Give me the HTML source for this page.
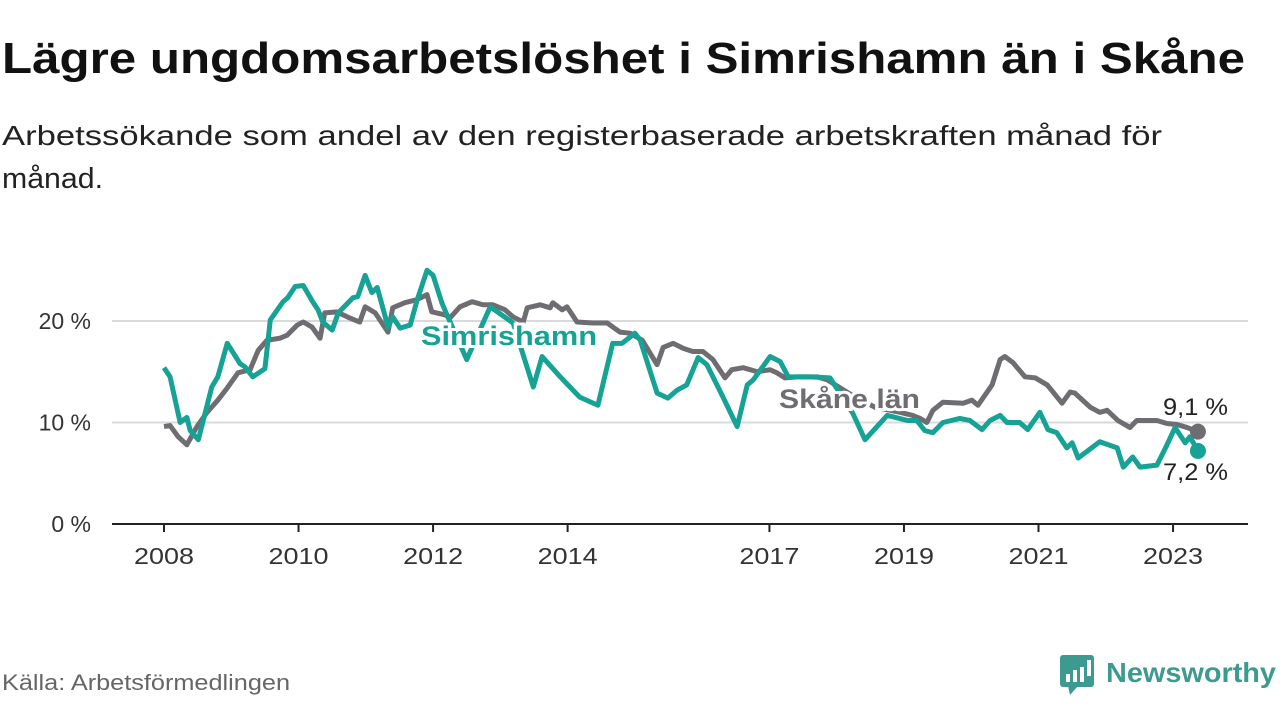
<!DOCTYPE html>
<html><head><meta charset="utf-8"><style>
body{margin:0;background:#fff;}
svg{display:block;font-family:"Liberation Sans",sans-serif;}
</style></head><body>
<svg id="chart" width="1280" height="720" viewBox="0 0 1280 720">
<text x="2" y="73" font-size="44" font-weight="bold" fill="#111" textLength="1243" lengthAdjust="spacingAndGlyphs">Lägre ungdomsarbetslöshet i Simrishamn än i Skåne</text>
<text x="2" y="145" font-size="28" fill="#222" textLength="1160" lengthAdjust="spacingAndGlyphs">Arbetssökande som andel av den registerbaserade arbetskraften månad för</text>
<text x="2" y="188" font-size="29" fill="#222" textLength="101" lengthAdjust="spacingAndGlyphs">månad.</text>
<g id="grid"></g>
<g id="xaxis"></g>
<g id="series"></g>
<g id="labels"></g>
<text x="2" y="690" font-size="22" fill="#666" textLength="288" lengthAdjust="spacingAndGlyphs">Källa: Arbetsförmedlingen</text>
<g>
<rect x="1060" y="655" width="34" height="32" rx="3" fill="#3d9a91"/>
<polygon points="1068,686 1078,686 1070,695" fill="#3d9a91"/>
<rect x="1066" y="674" width="4" height="8" fill="#fff"/>
<rect x="1073" y="670" width="4" height="12" fill="#fff"/>
<rect x="1080" y="667" width="4" height="15" fill="#fff"/>
<rect x="1087" y="660" width="4" height="16" fill="#fff"/>
<text x="1106" y="682" font-size="28" font-weight="bold" fill="#3d9a91" textLength="170" lengthAdjust="spacingAndGlyphs">Newsworthy</text>
</g>
</svg>
<script>
const yTicks=[0,10,20];
const yTickLabels=["0 %","10 %","20 %"];
const xTicks=[2008,2010,2012,2014,2017,2019,2021,2023];
const simDates=[2008.0,2008.09,2008.24,2008.34,2008.39,2008.51,2008.71,2008.80,2008.94,2009.13,2009.20,2009.32,2009.50,2009.58,2009.77,2009.84,2009.95,2010.07,2010.21,2010.29,2010.36,2010.50,2010.59,2010.81,2010.88,2010.99,2011.09,2011.17,2011.33,2011.40,2011.51,2011.66,2011.76,2011.91,2012.0,2012.13,2012.22,2012.50,2012.85,2013.19,2013.49,2013.62,2013.89,2014.18,2014.45,2014.67,2014.81,2015.0,2015.08,2015.33,2015.49,2015.63,2015.77,2015.94,2016.07,2016.31,2016.52,2016.67,2016.76,2017.01,2017.16,2017.28,2017.60,2017.90,2018.24,2018.42,2018.75,2019.05,2019.19,2019.31,2019.43,2019.58,2019.83,2019.98,2020.16,2020.28,2020.43,2020.53,2020.72,2020.84,2021.02,2021.14,2021.27,2021.42,2021.50,2021.59,2021.91,2022.17,2022.26,2022.40,2022.51,2022.76,2022.91,2023.03,2023.18,2023.25,2023.37];
const simValues=[15.4,14.5,10,10.5,9.2,8.3,13.5,14.5,17.8,15.8,15.5,14.5,15.3,20.1,21.9,22.3,23.4,23.5,21.9,21.1,19.9,19.1,20.8,22.3,22.4,24.5,22.8,23.3,19.4,20.4,19.3,19.6,22,25,24.5,21.8,20.4,16.2,21.4,19.8,13.5,16.5,14.5,12.5,11.7,17.8,17.8,18.8,18.1,12.9,12.4,13.2,13.7,16.4,15.7,12.5,9.6,13.7,14.2,16.5,16,14.5,14.5,14.4,10.9,8.3,10.7,10.2,10.2,9.2,9,10,10.4,10.2,9.3,10.2,10.7,10,10,9.3,11,9.3,9,7.5,8,6.5,8.1,7.5,5.6,6.6,5.6,5.8,7.8,9.5,8,8.6,7.2];
const skDates=[2008.0,2008.09,2008.21,2008.34,2008.49,2008.64,2008.80,2008.94,2009.10,2009.28,2009.40,2009.53,2009.72,2009.83,2009.98,2010.07,2010.20,2010.32,2010.39,2010.57,2010.76,2010.91,2010.99,2011.14,2011.33,2011.40,2011.58,2011.76,2011.91,2011.98,2012.18,2012.25,2012.40,2012.58,2012.74,2012.89,2013.07,2013.19,2013.34,2013.40,2013.59,2013.74,2013.78,2013.92,2013.99,2014.14,2014.37,2014.59,2014.78,2014.93,2015.11,2015.33,2015.42,2015.57,2015.72,2015.86,2016.01,2016.16,2016.34,2016.44,2016.61,2016.82,2017.01,2017.11,2017.23,2017.41,2017.71,2017.86,2018.20,2018.57,2018.94,2019.13,2019.24,2019.34,2019.43,2019.58,2019.88,2020.01,2020.10,2020.31,2020.43,2020.50,2020.62,2020.80,2020.95,2021.13,2021.35,2021.47,2021.54,2021.77,2021.91,2022.02,2022.18,2022.36,2022.46,2022.76,2022.91,2023.06,2023.21,2023.37];
const skValues=[9.6,9.7,8.6,7.8,9.6,11,12.2,13.4,14.9,15.2,17.1,18.1,18.3,18.6,19.6,19.9,19.4,18.3,20.8,20.9,20.3,19.9,21.4,20.8,18.9,21.3,21.8,22.1,22.6,20.9,20.6,20.3,21.4,21.9,21.6,21.6,21.1,20.4,19.9,21.3,21.6,21.3,21.8,21.1,21.4,19.9,19.8,19.8,18.9,18.8,18.1,15.7,17.4,17.8,17.3,17,17,16.2,14.4,15.2,15.4,15,15.2,14.9,14.4,14.5,14.5,14.2,12.8,11.5,11,10.7,10.4,10,11.2,12,11.9,12.2,11.7,13.7,16.2,16.5,15.9,14.5,14.4,13.7,11.9,13,12.9,11.5,11,11.2,10.2,9.5,10.2,10.2,9.9,9.8,9.5,9.1];
const NS='http://www.w3.org/2000/svg';
const X=y=>164+(y-2008)*67.27;
const Y=v=>524-v*10.15;
function mk(tag,parent,attrs){const e=document.createElementNS(NS,tag);for(const k in attrs)e.setAttribute(k,attrs[k]);parent.appendChild(e);return e;}
const grid=document.getElementById('grid');
yTicks.forEach((t,i)=>{
 if(t>0){const l=mk('line',grid,{x1:112,x2:1248,y1:Y(t),y2:Y(t),stroke:'#d9d9d9','stroke-width':2});
 
 }
 const tx=mk('text',grid,{x:91,y:Y(t)+8,'font-size':23,fill:'#333','text-anchor':'end'});
 tx.textContent=yTickLabels[i];
 
 
});
const xa=document.getElementById('xaxis');
const ax=mk('line',xa,{x1:112,x2:1248,y1:524,y2:524,stroke:'#222','stroke-width':2});


xTicks.forEach(t=>{
 const tk=mk('line',xa,{x1:X(t),x2:X(t),y1:524,y2:532,stroke:'#222','stroke-width':2});
 
 
 const tx=mk('text',xa,{x:X(t)-30,y:564,'font-size':23,fill:'#333',textLength:60,lengthAdjust:'spacingAndGlyphs'});
 tx.textContent=t;
 
 
});
const sg=document.getElementById('series');
function line(d,v,col,name){
 const p=mk('polyline',sg,{points:d.map((x,i)=>X(x)+','+Y(v[i])).join(' '),fill:'none',stroke:col,'stroke-width':5,'stroke-linejoin':'round'});
 
 
}
line(skDates,skValues,'#6f6d72','skane-line');
line(simDates,simValues,'#16a295','simrishamn-line');
const d1=mk('circle',sg,{cx:X(skDates[skDates.length-1]),cy:Y(skValues[skValues.length-1]),r:8,fill:'#6f6d72'});


const d2=mk('circle',sg,{cx:X(simDates[simDates.length-1]),cy:Y(simValues[simValues.length-1]),r:8,fill:'#16a295'});


const lg=document.getElementById('labels');
function lab(x,y,txt,col,bold,name,size,len){
 const t=mk('text',lg,{x:x,y:y,'font-size':size,fill:col,'font-weight':bold?'bold':'normal',stroke:'#fff','stroke-width':bold?6:0,'paint-order':'stroke',textLength:len,lengthAdjust:'spacingAndGlyphs'});
 t.textContent=txt;
 
 
}
lab(421,345,'Simrishamn','#16a295',true,'simrishamn-label',27,176);
lab(779,408,'Skåne län','#6f6d72',true,'skane-label',27,141);
lab(1163,415,'9,1 %','#222',false,'skane-end-value',24,65);
lab(1163,480,'7,2 %','#222',false,'simrishamn-end-value',24,65);
</script>
</body></html>
